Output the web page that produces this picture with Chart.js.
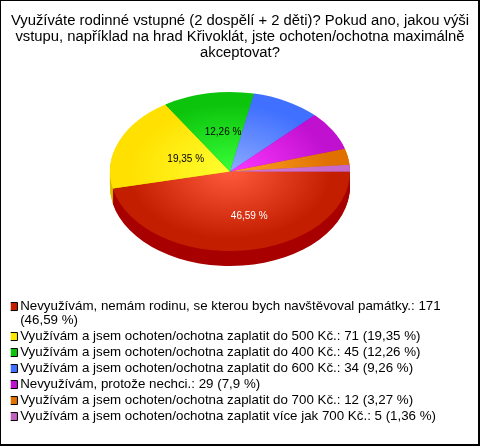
<!DOCTYPE html>
<html><head><meta charset="utf-8">
<script src="https://cdn.jsdelivr.net/npm/chart.js@4"></script>
<style>html,body{margin:0;padding:0;background:#fff}canvas{display:block}#w{width:480px;height:446px}</style>
</head><body><div id="w"><canvas id="c" width="480" height="446"></canvas></div>
<script>
const titleLines = ["Využíváte rodinné vstupné (2 dospělí + 2 děti)? Pokud ano, jakou výši","vstupu, například na hrad Křivoklát, jste ochoten/ochotna maximálně","akceptovat?"];
const categories = ["Nevyužívám, nemám rodinu, se kterou bych navštěvoval památky.","Využívám a jsem ochoten/ochotna zaplatit do 500 Kč.","Využívám a jsem ochoten/ochotna zaplatit do 400 Kč.","Využívám a jsem ochoten/ochotna zaplatit do 600 Kč.","Nevyužívám, protože nechci.","Využívám a jsem ochoten/ochotna zaplatit do 700 Kč.","Využívám a jsem ochoten/ochotna zaplatit více jak 700 Kč."];
const counts = [171,71,45,34,29,12,5];
const percents = ["46,59","19,35","12,26","9,26","7,9","3,27","1,36"];
const centerColors = ["#ff5a3c","#ffff30","#38ff38","#8caaff","#ff38ff","#ffa428","#d878d8"];
const edgeColors = ["#c41e00","#ffe000","#0cc40c","#4070ff","#c010d0","#e07000","#c868c8"];
const legendColors = ["#c41e00","#ffe600","#0cc40c","#4070ff","#c010d0","#e07000","#c060c0"];
const sideColors = ["#a80000","#d8c000","#0aa00a","#3050d0","#a000b0","#c06000","#a050a0"];
const sliceLabels = ["46,59 %","19,35 %","12,26 %",null,null,null,null];
const labelColors = ["#fff","#000","#000"];

const CX = 230, CY = 171.5, SQ = 0.663, DEPTH = 15;
const pie3d = {
  id:'pie3d',
  afterLayout(chart){
    const l=chart.legend;
    l.left=13.4-l.options.labels.padding; l.right=l.left+460;
    l.top=297.2; l.bottom=440;
  },
  beforeDraw(chart){
    const c=chart.ctx; c.save();
    c.fillStyle='#fff'; c.fillRect(0,0,480,446);
    c.fillStyle='#000';
    c.fillRect(0,0,480,1); c.fillRect(0,0,1,446);
    c.fillRect(478,0,2,446); c.fillRect(0,444,480,2);
    c.restore();
  },
  beforeDatasetsDraw(chart){
    const c=chart.ctx, arcs=chart.getDatasetMeta(0).data, ax=arcs[0].x, ay=arcs[0].y;
    c.save();
    for(let d=DEPTH;d>0;d--){
      c.save();
      c.translate(CX-ax,CY+d); c.scale(1,SQ); c.translate(0,-ay);
      arcs.forEach((a,i)=>{
        const v=Object.create(a,{options:{value:Object.assign({},a.options,{backgroundColor:sideColors[i],borderWidth:0})}});
        a.draw.call(v,c);
      });
      c.restore();
    }
    c.translate(CX-ax,CY); c.scale(1,SQ); c.translate(0,-ay);
  },
  afterDatasetsDraw(chart){
    const c=chart.ctx, arcs=chart.getDatasetMeta(0).data;
    c.restore();
    const rf=[0.56,0.40,0.50], dx=[12,0,4];
    c.save();
    c.font='10px "Liberation Sans"'; c.textAlign='center'; c.textBaseline='middle';
    sliceLabels.forEach((t,i)=>{
      if(!t) return;
      const a=arcs[i], m=(a.startAngle+a.endAngle)/2, r=a.outerRadius*rf[i];
      c.fillStyle=labelColors[i];
      c.fillText(t,CX+Math.cos(m)*r+dx[i],CY+Math.sin(m)*r*SQ);
    });
    c.restore();
  }
};
new Chart(document.getElementById('c'),{
  type:'pie',
  data:{labels:categories,datasets:[{
    data:counts,clip:false,borderWidth:0,
    backgroundColor(ctx){
      const ch=ctx.chart, ca=ch.chartArea;
      if(!ca) return edgeColors[ctx.dataIndex];
      const x=(ca.left+ca.right)/2,y=(ca.top+ca.bottom)/2;
      const g=ch.ctx.createRadialGradient(x,y,0,x,y,120);
      g.addColorStop(0,centerColors[ctx.dataIndex]);
      g.addColorStop(0.85,edgeColors[ctx.dataIndex]);
      g.addColorStop(1,edgeColors[ctx.dataIndex]);
      return g;
    }
  }]},
  options:{
    responsive:false,animation:false,rotation:90,radius:120,
    plugins:{
      tooltip:{enabled:false},
      title:{display:true,text:titleLines,color:'#000',padding:{top:13.5,bottom:0},fullSize:true,
        font:{family:'"Liberation Sans"',size:14.83,weight:'normal',lineHeight:1.05}},
      legend:{position:'left',align:'start',maxWidth:10,
        labels:{usePointStyle:true,pointStyle:'rect',boxWidth:0.1,boxHeight:8,padding:2.67,color:'#000',
          font:{family:'"Liberation Sans"',size:13.33,lineHeight:1.025},
          generateLabels(){
            return categories.map((n,i)=>{
              const head=n+': '+counts[i], tail='('+percents[i]+' %)';
              return {text:i===0?[head,tail]:head+' '+tail,fillStyle:legendColors[i],strokeStyle:'#000',lineWidth:1,pointStyle:'rect',index:i,fontColor:'#000'};
            });
          }}}
    }
  },
  plugins:[pie3d]
});
</script></body></html>
